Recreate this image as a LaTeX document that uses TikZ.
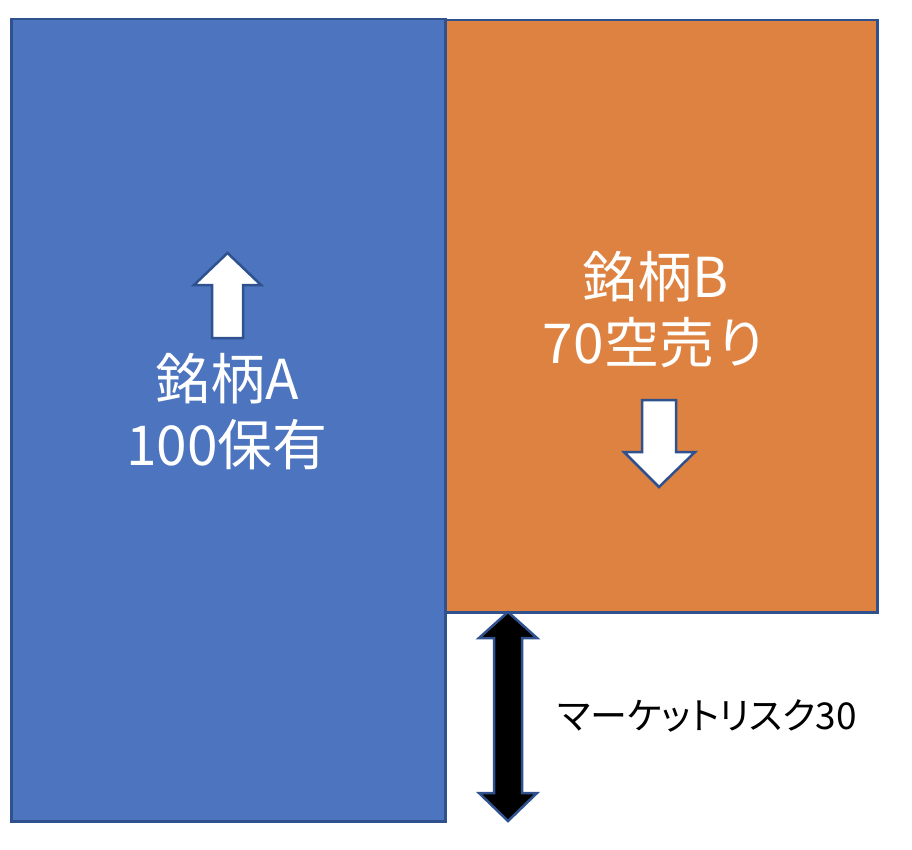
\documentclass[tikz,border=0pt]{standalone}
\usepackage{fontspec}
\usepackage{xcolor}
\newfontfamily\jpfont{Noto Sans CJK JP}
\newfontfamily\jpkana[RawFeature=+palt]{Noto Sans CJK JP}
\definecolor{stockblue}{HTML}{4C74BF}
\definecolor{stockorange}{HTML}{DE8241}
\definecolor{edgeblue}{HTML}{2F528F}

\begin{document}
\begin{tikzpicture}[x=1pt, y=-1pt,
    stockbox/.style={draw=edgeblue, line width=2.5pt, anchor=north west, inner sep=0pt},
    arrowbody/.style={draw=edgeblue, line width=2.5pt, line join=miter},
    stocktext/.style={text=white, align=center, font=\jpfont\fontsize{55}{66}\selectfont}]
    \useasboundingbox (0,0) rectangle (912,850);
    % Boxes
    \node[stockbox, fill=stockblue, minimum width=434pt, minimum height=802pt] (A) at (10,18) {};   % long A
    \node[stockbox, fill=stockorange, minimum width=432pt, minimum height=592pt] (B) at (444,19) {}; % short B

    \node[stocktext] (labA) at (227,412) {銘柄A\\100保有};
    \node[stocktext] (labB) at (656,310) {銘柄B\\70空売り};
    % Arrows
    \draw[arrowbody, fill=white] (227.5,253) -- (261,285) -- (243,285) -- (243,338)
        -- (212,338) -- (212,285) -- (194,285) -- cycle;
    \draw[arrowbody, fill=white] (659,487) -- (695,452) -- (676,452) -- (676,400)
        -- (642,400) -- (642,452) -- (624,452) -- cycle;
    \coordinate (risktop) at (508,612);
    \coordinate (riskbot) at (508,821);
    \draw[arrowbody, fill=black] (risktop) -- (537,638) -- (522,638) -- (522,793) -- (537,793)
        -- (riskbot) -- (479,793) -- (494,793) -- (494,638) -- (479,638) -- cycle;
    \node[anchor=west, inner sep=0pt, font=\jpkana\fontsize{37}{40}\selectfont] (risk) at (557,716) {マーケットリスク30};
\end{tikzpicture}
\end{document}
